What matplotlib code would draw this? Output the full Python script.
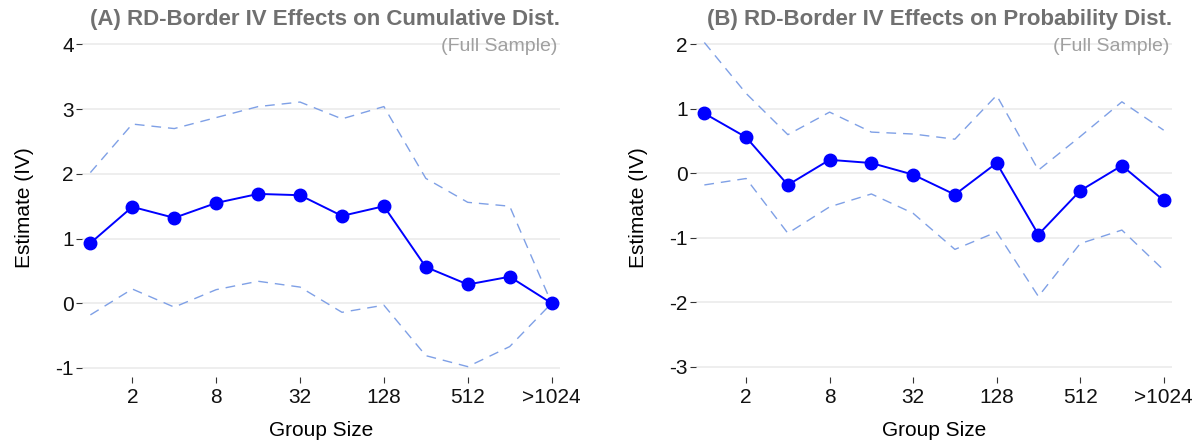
import matplotlib
matplotlib.use("Agg")
import matplotlib.pyplot as plt

plt.rcParams['font.family'] = ['Liberation Sans', 'DejaVu Sans']

# group-size bins (log2 scale), labelled every other bin
bins = list(range(1, 13))
tick_pos = [2, 4, 6, 8, 10, 12]
tick_labels = ["2", "8", "32", "128", "512", ">1024"]

# (A) cumulative distribution
cum_est = [0.93, 1.49, 1.32, 1.55, 1.69, 1.67, 1.35, 1.50, 0.56, 0.29, 0.41, 0.0]
cum_hi = [2.02, 2.77, 2.70, 2.87, 3.04, 3.11, 2.85, 3.04, 1.93, 1.56, 1.50, 0.0]
cum_lo = [-0.18, 0.22, -0.06, 0.21, 0.34, 0.25, -0.14, -0.03, -0.81, -0.98, -0.67, 0.0]

# (B) probability distribution
prob_est = [0.93, 0.56, -0.18, 0.21, 0.16, -0.02, -0.33, 0.16, -0.95, -0.27, 0.12, -0.42]
prob_hi = [2.03, 1.24, 0.60, 0.95, 0.64, 0.61, 0.53, 1.21, 0.05, 0.57, 1.11, 0.67]
prob_lo = [-0.18, -0.08, -0.93, -0.52, -0.32, -0.62, -1.18, -0.91, -1.91, -1.09, -0.88, -1.50]

W, H = 1204, 444
fig = plt.figure(figsize=(W / 100, H / 100), dpi=100)

panels = [
    dict(rect=[82, 560], est=cum_est, hi=cum_hi, lo=cum_lo,
         ylim=(-1.14, 4.1), yticks=[-1, 0, 1, 2, 3, 4],
         title="(A) RD-Border IV Effects on Cumulative Dist."),
    dict(rect=[696, 1172], est=prob_est, hi=prob_hi, lo=prob_lo,
         ylim=(-3.16, 2.1), yticks=[-3, -2, -1, 0, 1, 2],
         title="(B) RD-Border IV Effects on Probability Dist."),
]

top_px, bot_px = 38, 377
for p in panels:
    x0, x1 = p["rect"]
    ax = fig.add_axes([x0 / W, 1 - bot_px / H, (x1 - x0) / W, (bot_px - top_px) / H])
    ax.plot(bins, p["hi"], color="#7fa0e6", lw=1.0, dashes=(7, 5))
    ax.plot(bins, p["lo"], color="#7fa0e6", lw=1.0, dashes=(7, 5))
    ax.plot(bins, p["est"], color="#0000ff", lw=1.4, marker="o", ms=9, zorder=3)

    ax.set_xlim(0.8, 12.2)
    ax.set_ylim(*p["ylim"])
    ax.set_xticks(tick_pos, tick_labels)
    ax.set_yticks(p["yticks"], [str(v) for v in p["yticks"]])
    ax.grid(axis="y", color="#ebebeb", lw=1.2)
    ax.set_axisbelow(True)
    for s in ax.spines.values():
        s.set_visible(False)
    ax.tick_params(axis="x", length=4, width=0.8, color="#333333", pad=4,
                   labelsize=15, labelcolor="#111111")
    ax.tick_params(axis="y", length=4, width=0.8, color="#333333", pad=2,
                   labelsize=15, labelcolor="#111111")
    ax.set_xlabel("Group Size", fontsize=15, labelpad=10)
    ax.set_ylabel("Estimate (IV)", fontsize=15, labelpad=15)

    fig.text(x1 / W, 1 - 20 / H, p["title"], ha="right", va="center",
             fontsize=16, fontweight="bold", color="#707070")
    fig.text((x1 - 3) / W, 1 - 46 / H, "(Full Sample)", ha="right", va="center",
             fontsize=14, color="#a0a0a0")

fig.savefig("out.png", dpi=100)
